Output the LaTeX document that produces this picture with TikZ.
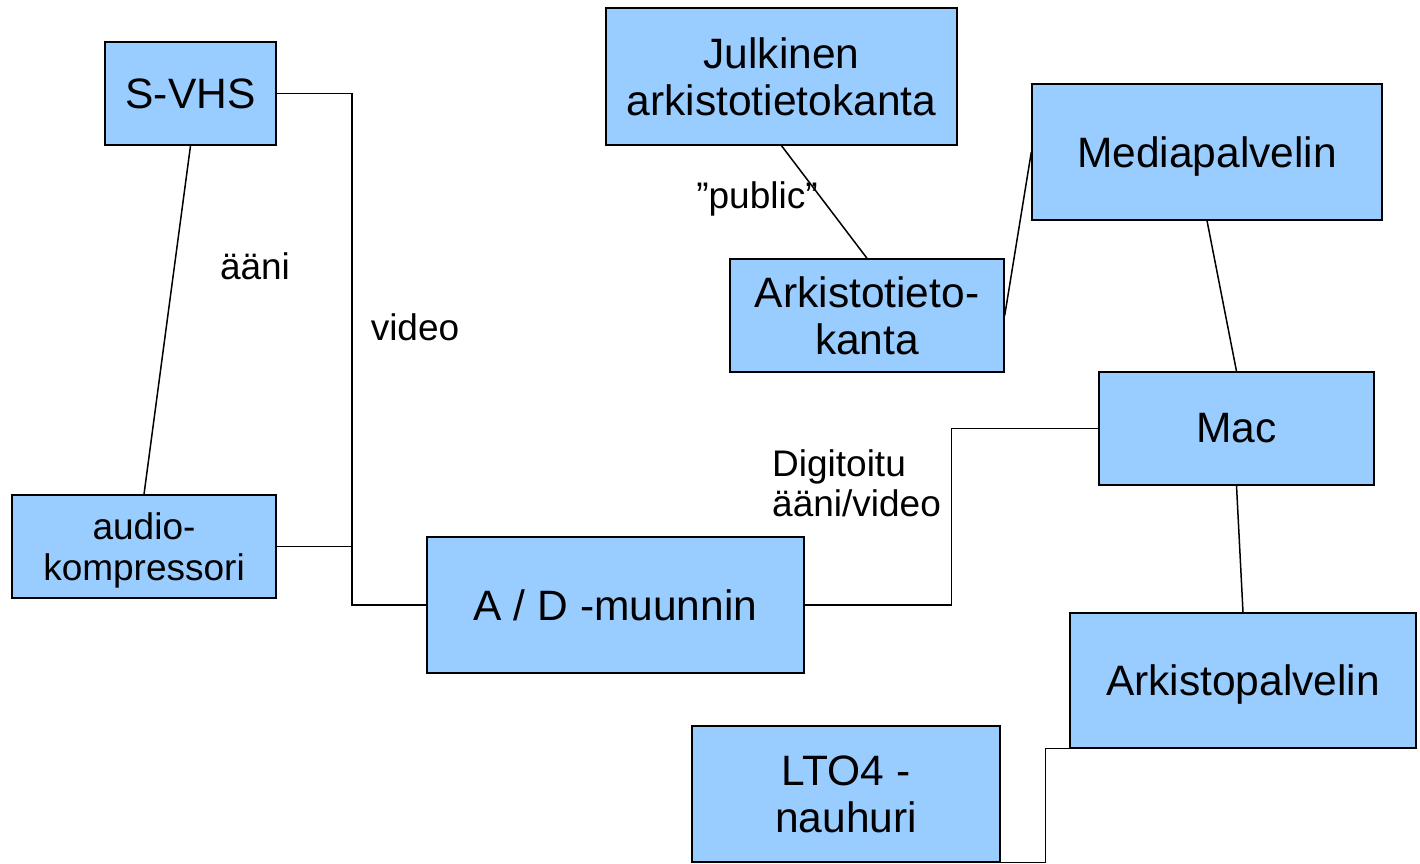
\documentclass[tikz,border=0pt]{standalone}
\usepackage{fontspec}
\setmainfont{Liberation Sans}
\definecolor{boxblue}{HTML}{99CCFF}
\begin{document}
\begin{tikzpicture}[x=1pt,y=-1pt,
  box/.style={draw=black, fill=boxblue, line width=1.4pt, inner sep=0pt, align=center,
    font=\fontsize{42.5}{47}\selectfont},
  lbl/.style={inner sep=0pt, font=\fontsize{37}{40}\selectfont},
  conn/.style={draw=black, line width=1.5pt}]
\useasboundingbox (0,0) rectangle (1420,863);
\node[box, minimum width=171pt, minimum height=103pt] (svhs) at (190.5,93.5) {S-VHS};
\node[box, minimum width=351pt, minimum height=137pt] (julk) at (781.5,76.5) {Julkinen\\arkistotietokanta};
\node[box, minimum width=350pt, minimum height=136pt, text depth=0pt] (media) at (1207,152) {Mediapalvelin};
\node[box, minimum width=274pt, minimum height=113pt] (ark) at (867,315.5) {Arkistotieto-\\kanta};
\node[box, minimum width=275pt, minimum height=113pt] (mac) at (1236.5,428.5) {Mac};
\node[box, minimum width=264pt, minimum height=103pt, text depth=0pt, font=\fontsize{37}{41}\selectfont] (audio) at (144,546.5) {audio-\\kompressori};
\node[box, minimum width=377pt, minimum height=136pt] (ad) at (615.5,605) {A / D -muunnin};
\node[box, minimum width=346pt, minimum height=135pt, text depth=0pt] (arkp) at (1243,680.5) {Arkistopalvelin};
\node[box, minimum width=308pt, minimum height=136pt] (lto) at (846,794) {LTO4 -\\nauhuri};

\node[lbl] (aani) at (255,266) {ääni};
\node[lbl] (video) at (415,327) {video};
\node[lbl] (public) at (757,199) {”public”};
\node[lbl, align=left, anchor=west] (digi) at (772,483) {Digitoitu\\ääni/video};

\coordinate (bus) at (352,0);
\draw[conn] (svhs.east) -| (bus |- ad.west) -- (ad.west);
\draw[conn] (audio.east) -- (audio.east -| bus);
\draw[conn] (svhs.south) -- (audio.north);
\draw[conn] (julk.south) -- (ark.north);
\draw[conn] (ark.east) -- (media.west);
\draw[conn] (media.south) -- (mac.north);
\draw[conn] (ad.east) -- ++(147,0) |- (mac.west);
\draw[conn] (mac.south) -- (arkp.north);
\draw[conn] (lto.south east) -- ++(45,0) |- (arkp.south west);
\end{tikzpicture}
\end{document}
